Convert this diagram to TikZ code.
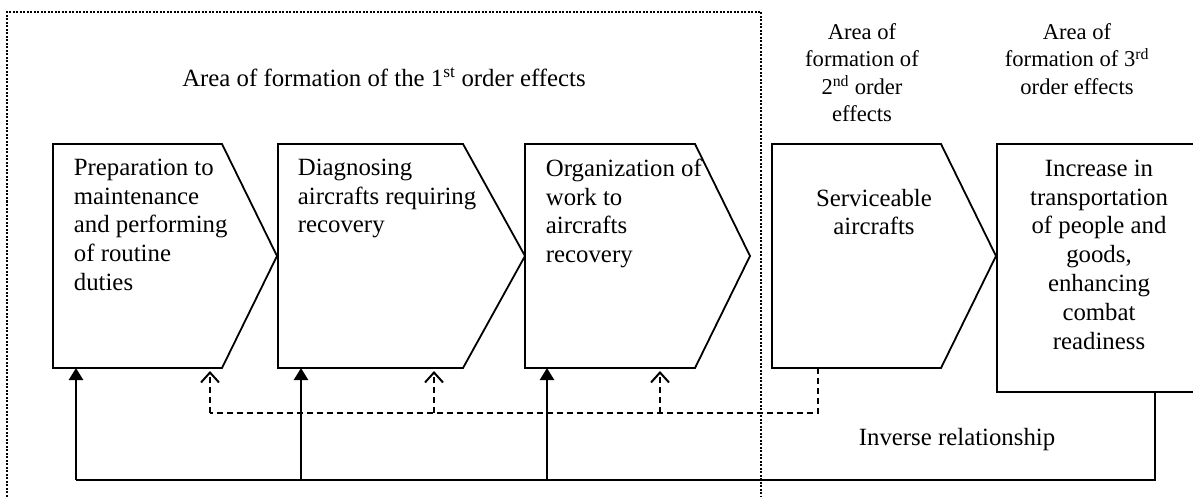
\documentclass[tikz,border=0pt]{standalone}
\usepackage{fontspec}
\setmainfont{Liberation Serif}
\usetikzlibrary{arrows.meta}

\begin{document}
\begin{tikzpicture}[x=1pt, y=-1pt, line width=1.8pt,
	boxtext/.style={font=\fontsize{24.8}{28.8}\selectfont, inner sep=0pt},
	areatext/.style={font=\fontsize{22.6}{27.3}\selectfont, inner sep=0pt, align=center},
	feedback/.style={line width=2.4pt, -{Triangle[length=12pt,width=14pt]}},
	inverse/.style={line width=1.8pt, dash pattern=on 6pt off 4pt},
	inversetip/.style={inverse, -{Straight Barb[length=10pt,width=18pt,line width=2pt]}}]
	\useasboundingbox (0,0) rectangle (1193,497);
	% area of the 1st order effects
	\draw[line width=2pt, dash pattern=on 2pt off 1.5pt] (7,500) -- (7,12) -- (761,12) -- (761,500);
	% chevrons: left / top right / tip
	\foreach \l/\r/\t in {53/222/277, 278/463/525, 525/695/750, 772/941/996}
		{\draw (\l,144) -- (\r,144) -- (\t,256) -- (\r,368) -- (\l,368) -- cycle;}
	\draw (997,144) rectangle (1201,392);
	\node[boxtext, anchor=base] (area1) at (384,87) {Area of formation of the 1\textsuperscript{st} order effects};
	\node[areatext, anchor=north] (area2) at (862,22.6) {Area of\\formation of\\2\textsuperscript{nd} order\\effects};
	\node[areatext, anchor=north] (area3) at (1077,22.6) {Area of\\formation of 3\textsuperscript{rd}\\order effects};
	\node[boxtext, align=left, anchor=north west] (prep) at (73,158) {Preparation to\\maintenance\\and performing\\of routine\\duties};
	\node[boxtext, align=left, anchor=north west] (diag) at (297,158) {Diagnosing\\aircrafts requiring\\recovery};
	\node[boxtext, align=left, anchor=north west] (org) at (545,158) {Organization of\\work to\\aircrafts\\recovery};
	\node[boxtext, align=center, anchor=north] (serv) at (874,188) {Serviceable\\aircrafts};
	\node[boxtext, align=center, anchor=north] (incr) at (1099,159) {Increase in\\transportation\\of people and\\goods,\\enhancing\\combat\\readiness};
	\node[boxtext, anchor=base west] (inv) at (858,445) {Inverse relationship};
	% connector ends
	\coordinate (p1) at (76,368);
	\coordinate (p2) at (301,368);
	\coordinate (p3) at (547,368);
	\coordinate (q1) at (210,371);
	\coordinate (q2) at (434,371);
	\coordinate (q3) at (660,371);
	\coordinate (serv-out) at (818,368);
	\coordinate (incr-out) at (1155,392);
	\coordinate (base) at (76,480);
	\coordinate (dbase) at (210,413);
	% feedback
	\draw[line width=2pt] (incr-out) |- (base);
	\foreach \p in {p1,p2,p3} {\draw[feedback] (\p |- base) -- (\p);}
	\draw[inverse] (serv-out) |- (dbase);
	\foreach \q in {q1,q2,q3} {\draw[inversetip] (\q |- dbase) -- (\q);}
\end{tikzpicture}
\end{document}
